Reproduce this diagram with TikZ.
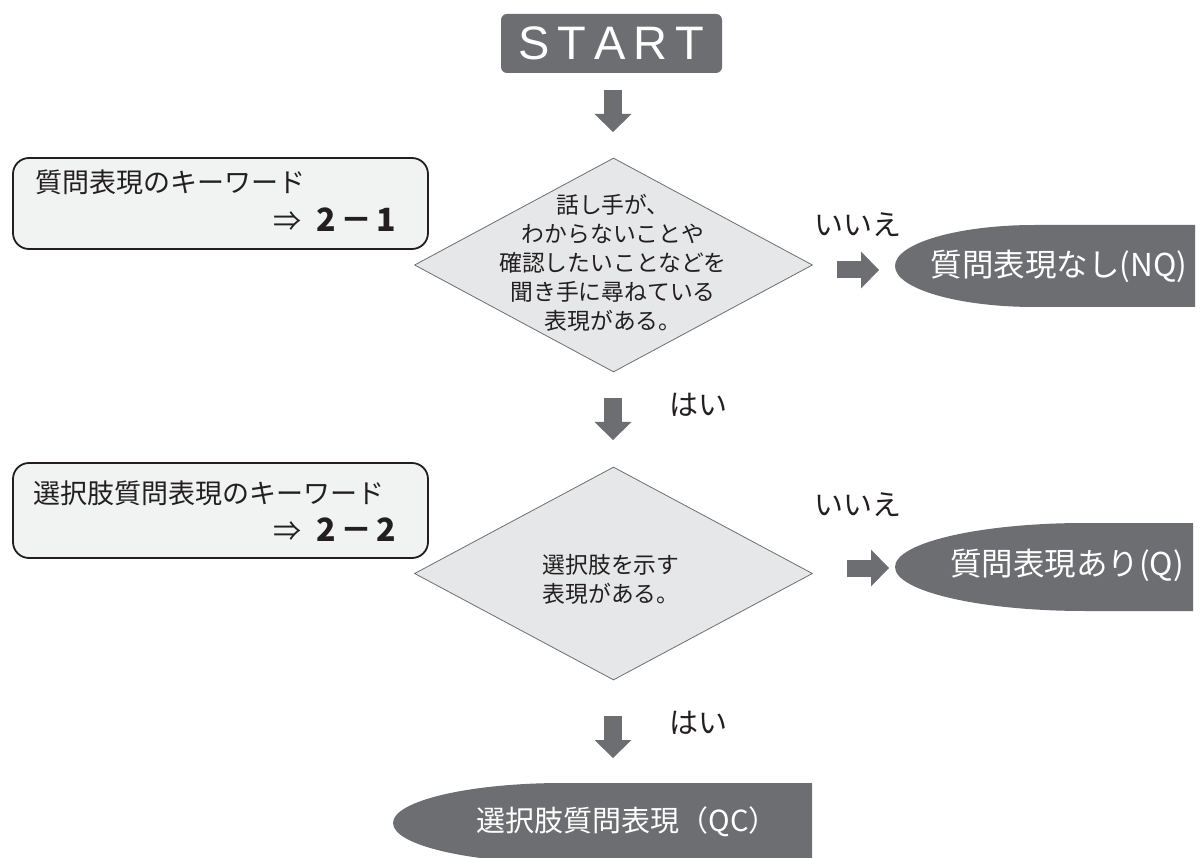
\documentclass[tikz,border=0pt]{standalone}
\usepackage{fontspec}
\setmainfont{Noto Sans CJK JP}
\newfontfamily\latinfont{Liberation Sans}
\usetikzlibrary{shapes.geometric,arrows.meta}
\definecolor{dark}{HTML}{6D6E71}
\definecolor{dfill}{HTML}{E6E7E8}
\definecolor{bfill}{HTML}{F1F2F2}
\definecolor{ink}{HTML}{231F20}
\newcommand{\keynum}[2]{{\fontsize{28}{28}\selectfont ⇒}\hspace{15pt}{\bfseries\fontsize{32}{32}\selectfont #1\kern4pt－\kern4pt#2}}
\begin{document}
\begin{tikzpicture}[x=1pt,y=-1pt,
  startbox/.style={fill=dark, rounded corners=6pt, minimum width=221pt, minimum height=59pt, inner sep=0pt, text=white, font=\latinfont\fontsize{47}{47}\selectfont},
  decision/.style={diamond, draw=dark, fill=dfill, line width=0.8pt, minimum width=398pt, minimum height=214pt, inner sep=0pt},
  keybox/.style={draw=ink, fill=bfill, line width=1.8pt, rounded corners=16pt, minimum width=415pt, minimum height=91pt, inner sep=0pt},
  blockarrow/.style={draw=dark, line width=18pt, line cap=butt, -{Triangle[length=18pt,width=37pt,line width=0pt]}},
  dtext/.style={text=ink, align=center, font=\fontsize{22.8}{29}\selectfont, inner sep=0pt},
  ktext/.style={text=ink, font=\fontsize{27}{27}\selectfont, inner sep=0pt},
  answer/.style={text=ink, font=\fontsize{29}{29}\selectfont, inner sep=0pt},
  result/.style={text=white, font=\fontsize{31.5}{31.5}\selectfont, inner sep=0pt},
  resultshape/.style={fill=dark}
]
\useasboundingbox (0,0) rectangle (1200,858);
\fill[white] (0,0) rectangle (1200,858);

% START
\node[startbox] (start) at (611.5,43.5) {S\kern8pt T\kern8pt A\kern8pt R\kern8pt T};
\coordinate (a1s) at (613,90); \coordinate (a1e) at (613,132);
\draw[blockarrow] (a1s) -- (a1e);

% key box 1
\node[keybox] (k1) at (220.5,203.5) {};
\node[ktext, anchor=west] (k1a) at (35,182) {質問表現のキーワード};
\node[ktext, anchor=east] (k1b) at (396,220) {\keynum{2}{1}};

% decision 1
\node[decision] (d1) at (613.5,265) {};
\node[dtext] (d1t) at (613,263) {話し手が、\\わからないことや\\確認したいことなどを\\聞き手に尋ねている\\表現がある。};

% no 1
\node[answer] (no1) at (858,225) {いいえ};
\coordinate (r1s) at (837,270); \coordinate (r1e) at (879,270);
\draw[blockarrow, line width=17pt] (r1s) -- (r1e);
\fill[resultshape] (1195,225) -- (1035,225) arc[start angle=90, end angle=270, x radius=140pt, y radius=41pt] -- (1195,307) -- cycle;
\node[result] (nq) at (1059,266) {質問表現なし(NQ)};

% yes 1
\coordinate (a2s) at (613,398); \coordinate (a2e) at (613,440);
\draw[blockarrow] (a2s) -- (a2e);
\node[answer] (yes1) at (698,405) {はい};

% key box 2
\node[keybox, minimum height=95pt] (k2) at (220.5,510.5) {};
\node[ktext, anchor=west] (k2a) at (33,493) {選択肢質問表現のキーワード};
\node[ktext, anchor=east] (k2b) at (396,530) {\keynum{2}{2}};

% decision 2
\node[decision, minimum height=213pt] (d2) at (613.5,573.5) {};
\node[dtext, align=left] (d2t) at (611,579) {選択肢を示す\\表現がある。};

% no 2
\node[answer] (no2) at (858,505) {いいえ};
\coordinate (r2s) at (847,568); \coordinate (r2e) at (889,568);
\draw[blockarrow, line width=17pt] (r2s) -- (r2e);
\fill[resultshape] (1193,523) -- (1085,523) arc[start angle=90, end angle=270, x radius=190pt, y radius=44pt] -- (1193,611) -- cycle;
\node[result] (q) at (1067,565) {質問表現あり(Q)};

% yes 2
\coordinate (a3s) at (613,716); \coordinate (a3e) at (613,758);
\draw[blockarrow] (a3s) -- (a3e);
\node[answer] (yes2) at (698,723) {はい};

% QC
\fill[resultshape] (812,783) -- (563,783) arc[start angle=90, end angle=270, x radius=170pt, y radius=40pt] -- (812,863) -- cycle;
\node[result, font=\fontsize{29}{29}\selectfont] (qc) at (627,822) {選択肢質問表現（QC）};
\end{tikzpicture}
\end{document}
